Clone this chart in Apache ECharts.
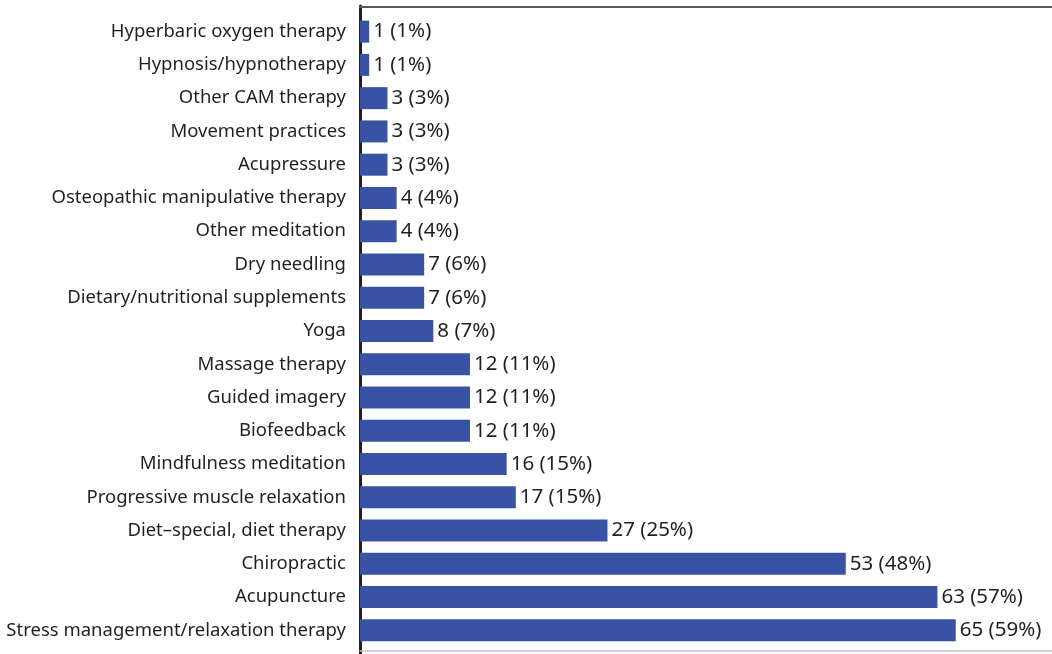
<!DOCTYPE html>
<html>
<head>
<meta charset="utf-8">
<script src="https://cdn.jsdelivr.net/npm/echarts@6/dist/echarts.min.js"></script>
<style>
  html, body { margin: 0; padding: 0; background: #fff; }
  #chart { width: 1052px; height: 654px; }
</style>
</head>
<body>
<div id="chart"></div>
<script>
// 类目（从上到下）
const therapies = [
  'Hyperbaric oxygen therapy',
  'Hypnosis/hypnotherapy',
  'Other CAM therapy',
  'Movement practices',
  'Acupressure',
  'Osteopathic manipulative therapy',
  'Other meditation',
  'Dry needling',
  'Dietary/nutritional supplements',
  'Yoga',
  'Massage therapy',
  'Guided imagery',
  'Biofeedback',
  'Mindfulness meditation',
  'Progressive muscle relaxation',
  'Diet\u2013special, diet therapy',
  'Chiropractic',
  'Acupuncture',
  'Stress management/relaxation therapy'
]
// 人数
const counts = [1, 1, 3, 3, 3, 4, 4, 7, 7, 8, 12, 12, 12, 16, 17, 27, 53, 63, 65]
// 百分比
const percents = [1, 1, 3, 3, 3, 4, 4, 6, 6, 7, 11, 11, 11, 15, 15, 25, 48, 57, 59]

const myChart = echarts.init(document.querySelector('#chart'))
const option = {
  animation: false,
  // grid 0 放柱子，grid 1 只画左侧竖线
  grid: [
    { left: 360, right: 0, top: 15, bottom: 7 },
    { left: 360, right: 0, top: 6, bottom: 0 },
  ],
  xAxis: [
    {
      type: 'value',
      gridIndex: 0,
      min: 0,
      max: 75.5,
      position: 'bottom',
      offset: 4,
      axisLine: { show: true, onZero: false, lineStyle: { color: '#c4c4c4', width: 1.5 } },
      axisTick: { show: false },
      axisLabel: { show: false },
      splitLine: { show: false },
    },
    {
      type: 'value',
      gridIndex: 0,
      min: 0,
      max: 75.5,
      position: 'top',
      offset: 8.5,
      axisLine: { show: true, onZero: false, lineStyle: { color: '#5a5a5a', width: 2 } },
      axisTick: { show: false },
      axisLabel: { show: false },
      splitLine: { show: false },
    },
    {
      type: 'value',
      gridIndex: 1,
      show: false,
    },
  ],
  yAxis: [
    {
      type: 'category',
      gridIndex: 0,
      inverse: true,
      data: therapies,
      axisLine: { show: false },
      axisTick: { show: false },
      axisLabel: {
        color: '#231f20',
        fontFamily: 'Noto Sans',
        fontSize: 18.5,
        margin: 14,
      },
    },
    {
      type: 'value',
      gridIndex: 1,
      axisLine: { show: true, onZero: false, lineStyle: { color: '#231f20', width: 3 } },
      axisTick: { show: false },
      axisLabel: { show: false },
      splitLine: { show: false },
    },
  ],
  series: [
    {
      type: 'bar',
      xAxisIndex: 0,
      yAxisIndex: 0,
      data: counts,
      barWidth: 22,
      itemStyle: { color: '#3953a4' },
      label: {
        show: true,
        position: 'right',
        distance: 4,
        color: '#231f20',
        fontFamily: 'Noto Sans',
        fontSize: 20.5,
        formatter: p => `${counts[p.dataIndex]} (${percents[p.dataIndex]}%)`,
      },
    },
  ],
}
myChart.setOption(option)
</script>
</body>
</html>
